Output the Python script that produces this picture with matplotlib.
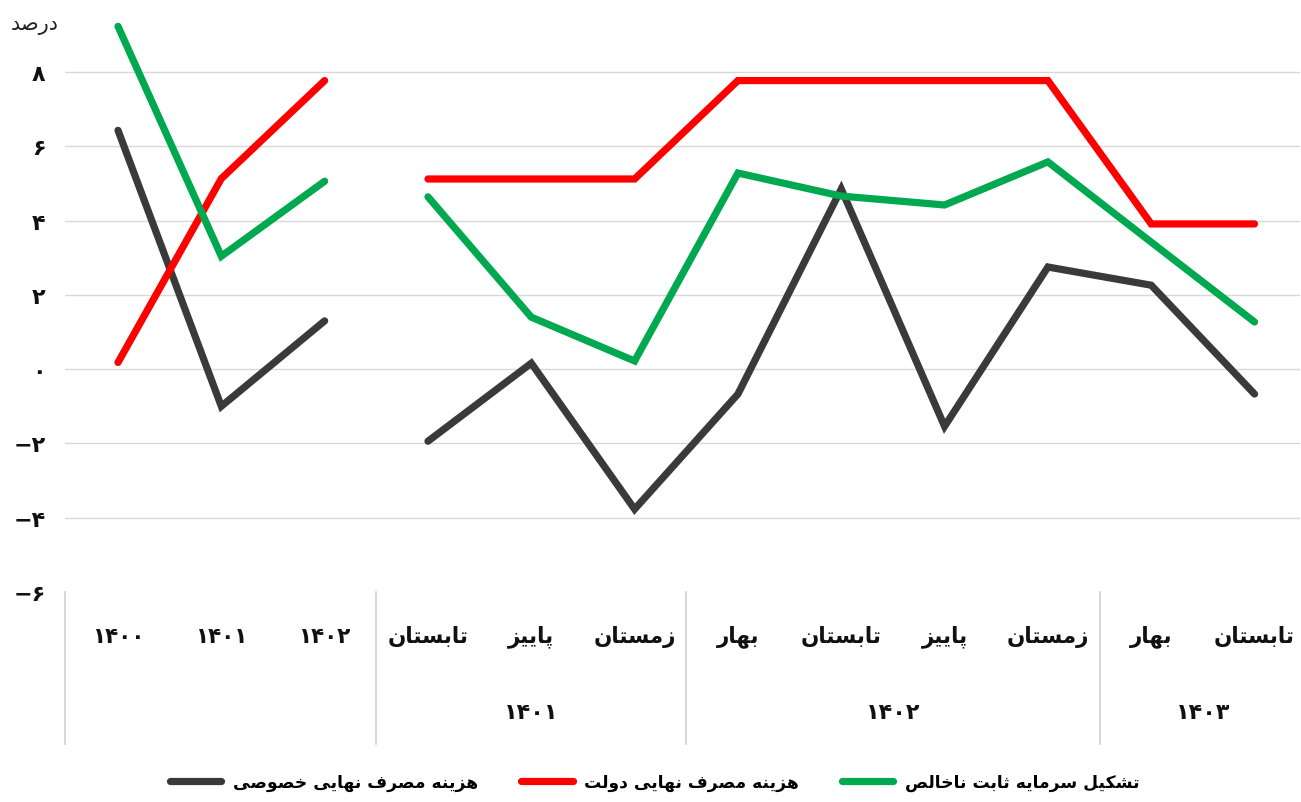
import matplotlib
matplotlib.use("Agg")
import matplotlib.pyplot as plt
from matplotlib.lines import Line2D

# ---------------- data ----------------
annual_labels = ["۱۴۰۰", "۱۴۰۱", "۱۴۰۲"]
quarter_labels = ["تابستان", "پاییز", "زمستان", "بهار", "تابستان", "پاییز", "زمستان", "بهار", "تابستان"]
year_groups = ["۱۴۰۱", "۱۴۰۲", "۱۴۰۳"]
year_group_sizes = [3, 4, 2]

private_annual = [6.43, -1.0, 1.3]
private_quarter = [-1.94, 0.16, -3.77, -0.67, 4.85, -1.54, 2.75, 2.26, -0.67]
gov_annual = [0.18, 5.13, 7.77]
gov_quarter = [5.12, 5.12, 5.12, 7.77, 7.77, 7.77, 7.77, 3.91, 3.91]
gfcf_annual = [9.23, 3.04, 5.06]
gfcf_quarter = [4.64, 1.40, 0.22, 5.28, 4.66, 4.42, 5.58, 3.42, 1.27]

series_names = ["هزینه مصرف نهایی خصوصی", "هزینه مصرف نهایی دولت", "تشکیل سرمایه ثابت ناخالص"]
series_colors = ["#3a3a3a", "#ff0000", "#00a94f"]

yticks = [-6, -4, -2, 0, 2, 4, 6, 8]
ytick_labels = ["−۶", "−۴", "−۲", "۰", "۲", "۴", "۶", "۸"]
y_unit = "درصد"

# ---------------- minimal Persian shaping ----------------
FORMS = {
    "ا": "\uFE8D\uFE8E", "آ": "\uFE81\uFE82",
    "ب": "\uFE8F\uFE90\uFE91\uFE92", "پ": "\uFB56\uFB57\uFB58\uFB59",
    "ت": "\uFE95\uFE96\uFE97\uFE98", "ث": "\uFE99\uFE9A\uFE9B\uFE9C",
    "ج": "\uFE9D\uFE9E\uFE9F\uFEA0", "چ": "\uFB7A\uFB7B\uFB7C\uFB7D",
    "ح": "\uFEA1\uFEA2\uFEA3\uFEA4", "خ": "\uFEA5\uFEA6\uFEA7\uFEA8",
    "د": "\uFEA9\uFEAA", "ذ": "\uFEAB\uFEAC", "ر": "\uFEAD\uFEAE",
    "ز": "\uFEAF\uFEB0", "ژ": "\uFB8A\uFB8B",
    "س": "\uFEB1\uFEB2\uFEB3\uFEB4", "ش": "\uFEB5\uFEB6\uFEB7\uFEB8",
    "ص": "\uFEB9\uFEBA\uFEBB\uFEBC", "ض": "\uFEBD\uFEBE\uFEBF\uFEC0",
    "ط": "\uFEC1\uFEC2\uFEC3\uFEC4", "ظ": "\uFEC5\uFEC6\uFEC7\uFEC8",
    "ع": "\uFEC9\uFECA\uFECB\uFECC", "غ": "\uFECD\uFECE\uFECF\uFED0",
    "ف": "\uFED1\uFED2\uFED3\uFED4", "ق": "\uFED5\uFED6\uFED7\uFED8",
    "ک": "\uFB8E\uFB8F\uFB90\uFB91", "گ": "\uFB92\uFB93\uFB94\uFB95",
    "ل": "\uFEDD\uFEDE\uFEDF\uFEE0", "م": "\uFEE1\uFEE2\uFEE3\uFEE4",
    "ن": "\uFEE5\uFEE6\uFEE7\uFEE8", "ه": "\uFEE9\uFEEA\uFEEB\uFEEC",
    "و": "\uFEED\uFEEE", "ی": "\uFBFC\uFBFD\uFBFE\uFBFF",
    "ي": "\uFEF1\uFEF2\uFEF3\uFEF4",
}


def fa(text):
    chars = list(text)
    if not any(c in FORMS for c in chars):
        return text
    out = []
    n = len(chars)
    for i, c in enumerate(chars):
        if c not in FORMS:
            out.append(c)
            continue
        prev = chars[i - 1] if i > 0 else None
        nxt = chars[i + 1] if i + 1 < n else None
        forms = FORMS[c]
        jp = prev in FORMS and len(FORMS[prev]) == 4
        jn = nxt in FORMS and len(forms) == 4
        if jp and jn:
            out.append(forms[3])
        elif jp:
            out.append(forms[1])
        elif jn:
            out.append(forms[2])
        else:
            out.append(forms[0])
    return "".join(reversed(out))


# ---------------- figure ----------------
plt.rcParams["font.family"] = ["DejaVu Sans"]
W, H = 1301, 803
fig = plt.figure(figsize=(W / 100, H / 100), dpi=100)
left_px, right_px, top_px, bot_px = 65, 1300, 13.6, 593
ax = fig.add_axes([left_px / W, 1 - bot_px / H, (right_px - left_px) / W, (bot_px - top_px) / H])

ax.set_ylim(-6, 9.6)
ax.set_xlim(-0.513, 11.44)

xa = list(range(len(annual_labels)))
xq = list(range(len(annual_labels), len(annual_labels) + len(quarter_labels)))
lw = 5.2
for annual, quarter, col in [(private_annual, private_quarter, series_colors[0]),
                             (gov_annual, gov_quarter, series_colors[1]),
                             (gfcf_annual, gfcf_quarter, series_colors[2])]:
    ax.plot(xa, annual, color=col, lw=lw, solid_capstyle="round", solid_joinstyle="miter", zorder=3)
    ax.plot(xq, quarter, color=col, lw=lw, solid_capstyle="round", solid_joinstyle="miter", zorder=3)

# grid
ax.set_yticks(yticks)
ax.set_yticklabels(ytick_labels, fontsize=16, fontweight="bold", color="#111111")
ax.tick_params(axis="y", length=0, pad=14)
ax.set_xticks([])
ax.yaxis.grid(True, color="#d8d8d8", lw=1.0)
ax.yaxis.get_gridlines()[0].set_visible(False)
ax.set_axisbelow(True)
for s in ax.spines.values():
    s.set_visible(False)

# unit
fig.text(35 / W, 1 - 25 / H, fa(y_unit), ha="center", va="center", fontsize=15, color="#222222")

# x category labels
trans = ax.get_xaxis_transform()
y_cat = -(637 - bot_px) / (bot_px - top_px)
y_grp = -(713 - bot_px) / (bot_px - top_px)
y_sep = -(745 - bot_px) / (bot_px - top_px)
for x, lab in zip(xa + xq, annual_labels + quarter_labels):
    ax.text(x, y_cat, fa(lab), transform=trans, ha="center", va="center",
            fontsize=15.5, fontweight="bold", color="#111111", clip_on=False)

# separators
seps = [-0.513, len(annual_labels) - 0.5]
acc = len(annual_labels)
for size in year_group_sizes:
    acc += size
    seps.append(acc - 0.5)
for s in seps[:-1]:
    ax.add_line(Line2D([s, s], [0, y_sep], transform=trans, color="#d0d0d0", lw=1.2, clip_on=False))

# year group labels
start = len(annual_labels)
for g, size in zip(year_groups, year_group_sizes):
    center = start + (size - 1) / 2
    ax.text(center, y_grp, g, transform=trans, ha="center", va="center",
            fontsize=16, fontweight="bold", color="#111111", clip_on=False)
    start += size

# legend
handles = [Line2D([0], [0], color=c, lw=lw, solid_capstyle="round") for c in series_colors]
fig.legend(handles, [fa(n) for n in series_names], loc="center", bbox_to_anchor=(655 / W, 1 - 783 / H),
           ncol=3, frameon=False, handlelength=3.0, handletextpad=0.7, columnspacing=2.5,
           prop={"size": 12.3, "weight": "bold"})

fig.savefig("out.png", dpi=100, facecolor="white")
